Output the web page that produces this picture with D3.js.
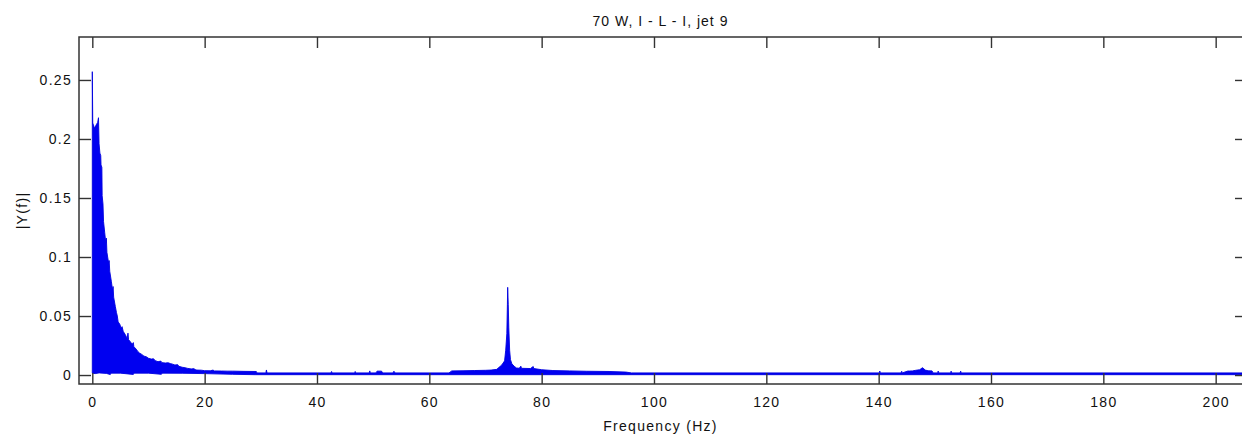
<!DOCTYPE html>
<html><head><meta charset="utf-8">
<script src="https://cdn.jsdelivr.net/npm/d3@7"></script>
<style>
body{margin:0;background:#fff}
text{font-family:"Liberation Sans",Arial,Helvetica,sans-serif;fill:#111}
</style>
</head><body>
<svg id="chart" width="1242" height="440"></svg>
<script>
const titleText = "70 W, I - L - I, jet 9";
const xLabelText = "Frequency (Hz)";
const yLabelText = "|Y(f)|";
const xTicks = [0, 20, 40, 60, 80, 100, 120, 140, 160, 180, 200];
const yTicks = [0, 0.05, 0.1, 0.15, 0.2, 0.25];
const yTickLabels = ["0", "0.05", "0.1", "0.15", "0.2", "0.25"];

// upper envelope of |Y(f)|
const upperFreq = [0,0.08,0.4,0.7,0.95,1.1,1.2,1.35,1.5,1.55,1.7,1.75,1.9,2.0,2.2,2.4,2.5,2.6,2.9,3.0,3.1,3.4,3.6,3.7,3.8,4.1,4.3,4.45,4.6,4.9,5.1,5.3,5.5,5.9,6.2,6.35,6.45,6.8,7.1,7.3,7.4,7.8,8.1,8.4,8.8,9.2,9.6,10,10.5,10.9,11.2,11.7,12.2,12.4,13,13.5,13.9,14.3,14.7,15.2,15.4,16,16.5,17,17.6,18.1,18.3,18.6,19.4,20,21,21.5,21.7,23,24,25,27,29.2,29.3,30.9,31.0,31.1,42.5,42.6,42.7,46.7,46.8,46.9,49.3,49.4,49.5,50.5,50.7,51.5,51.7,53.5,53.7,53.9,63.5,64,66,68,70,71,72,72.9,73.4,73.6,73.8,73.9,73.95,74.05,74.15,74.3,74.45,74.7,75.1,75.5,76,76.3,76.4,78,78.5,78.6,80,82,85,88,92,95,96,140.1,140.2,140.3,144,144.1,144.2,145.2,145.5,146,146.6,147.3,147.8,148.3,148.8,149.5,149.7,150.5,150.6,150.7,152.8,152.9,153,154.5,154.6,154.7,205.4];
const upperAmp = [0.257,0.2135,0.209,0.212,0.214,0.218,0.196,0.188,0.186,0.178,0.176,0.152,0.145,0.13,0.121,0.112,0.116,0.104,0.095,0.097,0.088,0.079,0.072,0.075,0.066,0.058,0.053,0.050,0.045,0.043,0.040,0.041,0.037,0.034,0.031,0.0355,0.030,0.028,0.026,0.0275,0.024,0.022,0.020,0.0186,0.0175,0.016,0.0155,0.0142,0.0135,0.0138,0.0122,0.0113,0.0118,0.0105,0.0102,0.0104,0.0097,0.0092,0.0085,0.0088,0.0074,0.0066,0.0062,0.0056,0.0052,0.0054,0.0046,0.0042,0.0041,0.0037,0.0036,0.0042,0.0035,0.0034,0.0033,0.0033,0.0031,0.0030,0.0018,0.0018,0.0043,0.0018,0.0018,0.003,0.0018,0.0018,0.003,0.0018,0.0018,0.0035,0.0018,0.0018,0.0033,0.0033,0.0018,0.0018,0.0032,0.0018,0.0018,0.0035,0.0036,0.0038,0.004,0.0042,0.0048,0.0085,0.012,0.021,0.035,0.06,0.0743,0.06,0.04,0.021,0.013,0.0095,0.0075,0.006,0.0057,0.0075,0.0057,0.0055,0.0072,0.0055,0.0045,0.0038,0.0035,0.0032,0.003,0.0025,0.0018,0.0018,0.0034,0.0018,0.0018,0.0032,0.0018,0.0034,0.0034,0.0035,0.004,0.0045,0.0062,0.0042,0.0036,0.0035,0.0018,0.0018,0.0034,0.0018,0.0018,0.0033,0.0018,0.0018,0.0033,0.0018,0.0018];

// lower envelope of |Y(f)|
const lowerFreq = [0,0.5,1.2,2.5,3.2,3.3,5,7.3,7.4,10,12.3,12.4,16,20,25,29,205.4];
const lowerAmp = [0.0016,0.0012,0.0018,0.0014,0.0004,0.0016,0.0016,0.0005,0.0016,0.0016,0.0006,0.0016,0.0015,0.0012,0.0006,0.0003,0.0003];

const svg = d3.select("#chart");
const L = 79, R = 1246, T = 37, B = 384;
const x = d3.scaleLinear().domain([-2.37, 205.4]).range([L, R]);
const y = d3.scaleLinear().domain([-0.0076, 0.2864]).range([B, T]);

const upper = upperFreq.map((f, i) => [f, upperAmp[i]]);
const lower = lowerFreq.map((f, i) => [f, lowerAmp[i]]).reverse();
const poly = upper.concat(lower);

const line = d3.line().x(d => x(d[0])).y(d => y(d[1]));
svg.append("path")
  .attr("d", line(poly) + "Z")
  .attr("fill", "#0000f0")
  .attr("stroke", "#0000e0")
  .attr("stroke-width", 0.9)
  .attr("stroke-linejoin", "round");

const axColor = "#333";
function style(g, labels) {
  g.select(".domain").remove();
  g.selectAll(".tick line").attr("stroke", axColor).attr("stroke-width", 1.4);
  g.selectAll(".tick text").attr("font-size", 14).attr("letter-spacing", "1.3px").attr("fill", "#111");
  if (!labels) g.selectAll(".tick text").remove();
}
svg.append("g").attr("transform", `translate(0,${B})`)
  .call(d3.axisBottom(x).tickValues(xTicks).tickSizeInner(-11).tickSizeOuter(0).tickPadding(13).tickFormat(d3.format("d")))
  .call(g => style(g, true));
svg.append("g").attr("transform", `translate(0,${T})`)
  .call(d3.axisTop(x).tickValues(xTicks).tickSizeInner(-11).tickSizeOuter(0))
  .call(g => style(g, false));
svg.append("g").attr("transform", `translate(${L},0)`)
  .call(d3.axisLeft(y).tickValues(yTicks).tickSizeInner(-12).tickSizeOuter(0).tickPadding(7).tickFormat((d, i) => yTickLabels[i]))
  .call(g => style(g, true));
svg.append("g").attr("transform", `translate(${R},0)`)
  .call(d3.axisRight(y).tickValues(yTicks).tickSizeInner(-11).tickSizeOuter(0))
  .call(g => style(g, false));

svg.append("rect").attr("x", L).attr("y", T).attr("width", R - L).attr("height", B - T)
  .attr("fill", "none").attr("stroke", axColor).attr("stroke-width", 1.5);

svg.append("text").attr("x", (L + 1242) / 2).attr("y", 26).attr("text-anchor", "middle")
  .attr("font-size", 14).attr("letter-spacing", "1px").text(titleText);
svg.append("text").attr("x", (L + 1242) / 2).attr("y", 431).attr("text-anchor", "middle")
  .attr("font-size", 14).attr("letter-spacing", "1.3px").text(xLabelText);
svg.append("text").attr("transform", `translate(27,${(T + B) / 2}) rotate(-90)`).attr("text-anchor", "middle")
  .attr("font-size", 14).attr("letter-spacing", "1.3px").text(yLabelText);
</script>
</body></html>
